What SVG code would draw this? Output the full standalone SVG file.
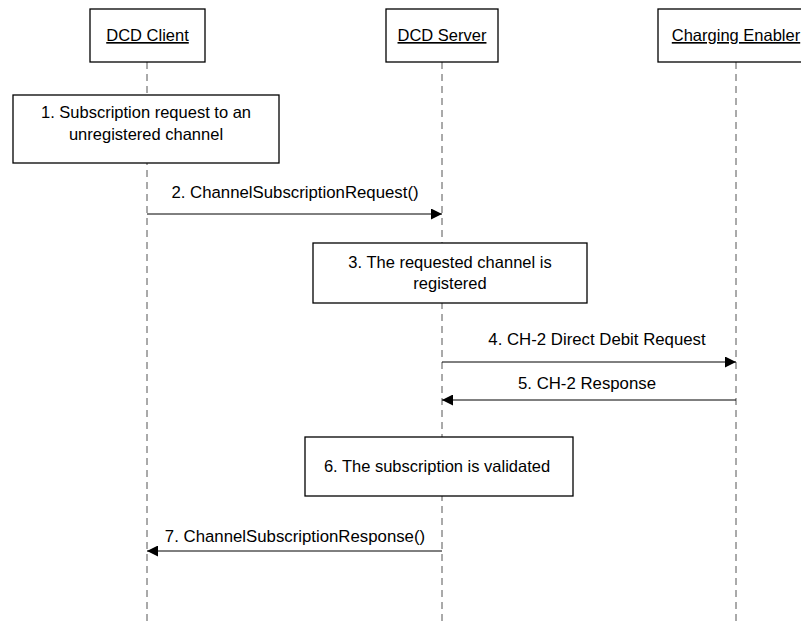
<svg xmlns="http://www.w3.org/2000/svg" width="801" height="623" viewBox="0 0 801 623">
<style>
text{font-family:"Liberation Sans",Arial,sans-serif;font-size:16.5px;fill:#000;text-anchor:middle}
.m{font-size:16.8px}
.box{fill:#fff;stroke:#000;stroke-width:1.3}
.life{stroke:#555;stroke-width:1;stroke-dasharray:7,5;fill:none}
.msg{stroke:#000;stroke-width:1;fill:none}
.u{text-decoration:underline}
</style>
<defs>
<marker id="ah" markerWidth="11" markerHeight="11" refX="11" refY="5.5" orient="auto" markerUnits="userSpaceOnUse">
<path d="M0,0 L11,5.5 L0,11 Z" fill="#000"/>
</marker>
</defs>
<g id="lifelines">
<line class="life" x1="147" y1="62" x2="147" y2="623"/>
<line class="life" x1="442" y1="62" x2="442" y2="623"/>
<line class="life" x1="736" y1="62" x2="736" y2="623"/>
</g>
<g id="dcd-client"><rect class="box" x="90" y="9" width="115" height="53"/><text class="u" x="147.5" y="41">DCD Client</text></g>
<g id="dcd-server"><rect class="box" x="386" y="9" width="112" height="53"/><text class="u" x="442" y="41">DCD Server</text></g>
<g id="charging-enabler"><rect class="box" x="658" y="9" width="156" height="53"/><text class="u" x="736" y="41">Charging Enabler</text></g>
<g id="step1"><rect class="box" x="13" y="95" width="266" height="68"/><text x="146" y="118">1. Subscription request to an</text><text x="146" y="140">unregistered channel</text></g>
<g id="step3"><rect class="box" x="313" y="243" width="274" height="60"/><text x="450" y="268">3. The requested channel is</text><text x="450" y="289">registered</text></g>
<g id="step6"><rect class="box" x="305" y="437" width="268" height="59"/><text x="437" y="472">6. The subscription is validated</text></g>
<g id="connectors">
<line class="msg" x1="147" y1="214" x2="442" y2="214" marker-end="url(#ah)"/>
<text class="m" x="295" y="198">2. ChannelSubscriptionRequest()</text>
<line class="msg" x1="442" y1="362" x2="736" y2="362" marker-end="url(#ah)"/>
<text class="m" x="597" y="345">4. CH-2 Direct Debit Request</text>
<line class="msg" x1="736" y1="400" x2="442" y2="400" marker-end="url(#ah)"/>
<text class="m" x="587" y="389">5. CH-2 Response</text>
<line class="msg" x1="442" y1="551" x2="147" y2="551" marker-end="url(#ah)"/>
<text class="m" x="295" y="542">7. ChannelSubscriptionResponse()</text>
</g>
</svg>
